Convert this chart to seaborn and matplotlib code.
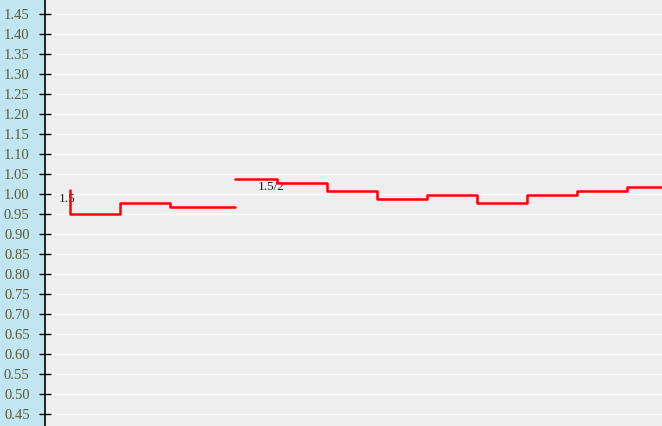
import matplotlib
matplotlib.use("Agg")
import matplotlib.pyplot as plt
import seaborn as sns
import numpy as np
import pandas as pd

# odds movement, two step runs (time in minutes from start of plot area)
run1_time = [25, 25, 75, 125, 190]
run1_odds = [1.01, 0.95, 0.977, 0.968, 0.968]
run2_time = [190, 232, 282, 332, 382, 432, 482, 532, 582, 640]
run2_odds = [1.038, 1.028, 1.008, 0.988, 0.998, 0.978, 0.998, 1.008, 1.018, 1.018]

label1, label1_pos = "1.5", (14, 0.988)
label2, label2_pos = "1.5/2", (213, 1.017)

y_ticks = np.round(np.arange(0.45, 1.451, 0.05), 2)

sns.set_theme(style="darkgrid")
plt.rcParams['font.family'] = ['Liberation Serif', 'DejaVu Serif']

fig = plt.figure(figsize=(6.62, 4.26), dpi=100, facecolor="#c2e6f1")
ax = fig.add_axes([45 / 662, 0, 617 / 662, 1])
ax.set_facecolor("#eeeeee")

df1 = pd.DataFrame({"t": run1_time, "odds": run1_odds})
df2 = pd.DataFrame({"t": run2_time, "odds": run2_odds})
for df in (df1, df2):
    sns.lineplot(data=df, x="t", y="odds", ax=ax, estimator=None, sort=False,
                 drawstyle="steps-post", color="#ff0000", linewidth=1.8, zorder=3)

ax.text(*label1_pos, label1, fontsize=9.5, color="#222222", va="center", ha="left", zorder=2)
ax.text(*label2_pos, label2, fontsize=9.5, color="#222222", va="center", ha="left", zorder=2)

ax.set_xlim(0, 617)
ax.set_ylim(0.42, 1.485)
ax.set_yticks(y_ticks)
ax.set_yticklabels([f"{v:.2f}" for v in y_ticks])
ax.set_xticks([])
ax.set_xlabel("")
ax.set_ylabel("")

ax.grid(axis="y", color="white", linewidth=1)
ax.grid(axis="x", visible=False)
for s in ["top", "right", "bottom"]:
    ax.spines[s].set_visible(False)
ax.spines["left"].set_visible(True)
ax.spines["left"].set_color("black")
ax.spines["left"].set_linewidth(1.2)
ax.tick_params(axis="y", direction="inout", length=8, width=1, color="black",
               labelsize=10.5, labelcolor="#5a5a33", pad=7, left=True)

fig.savefig("out.png", dpi=100, facecolor=fig.get_facecolor())
